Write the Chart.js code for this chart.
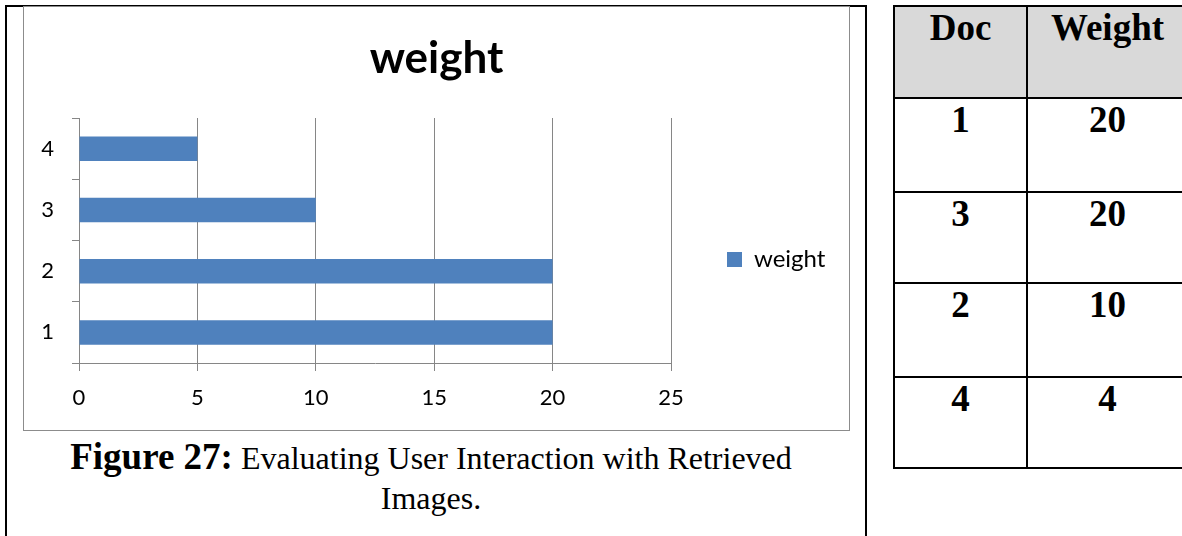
<!DOCTYPE html>
<html>
<head>
<meta charset="utf-8">
<script src="https://cdn.jsdelivr.net/npm/chart.js@4"></script>
<style>
  html, body { margin: 0; padding: 0; background: #fff; overflow: hidden; }
  body { width: 1182px; height: 536px; position: relative; }
  #cell { position: absolute; left: 5px; top: 5px; width: 858px; height: 600px;
          border-left: 2px solid #000; border-top: 2px solid #000; border-right: 2px solid #000; }
  #frame { position: absolute; left: 23px; top: 6px; width: 825px; height: 423px; border: 1px solid #8c8c8c; }
  #frame canvas { position: absolute; left: 0; top: 0; }
  #caption { position: absolute; left: 7px; top: 437px; width: 848px; text-align: center;
             font-family: "Liberation Serif", serif; font-size: 32px; line-height: 40px; color: #000; }
  #caption b { font-size: 37px; }
  #docTable { position: absolute; left: 893px; top: 5px; width: 294px; border-collapse: collapse; table-layout: fixed;
              font-family: "Liberation Serif", serif; font-weight: bold; font-size: 37px; line-height: 1.15; }
  #docTable td { border: 2px solid #000; padding: 0; text-align: center; vertical-align: top; }
  #docTable tr.head td { background: #d9d9d9; }
</style>
</head>
<body>
<div id="cell"></div>
<div id="frame"><canvas id="weightChart" width="825" height="423"></canvas></div>
<div id="caption"><b>Figure 27:</b> Evaluating User Interaction with Retrieved<br>Images.</div>
<table id="docTable">
  <colgroup><col style="width:133px"><col style="width:161px"></colgroup>
  <tbody id="docBody"></tbody>
</table>
<script>
// chart data
const categories = ['1', '2', '3', '4'];
const weightValues = [20, 20, 10, 5];
const xTicks = [0, 5, 10, 15, 20, 25];

// table data
const tableHeaders = ['Doc', 'Weight'];
const tableDocs = ['1', '3', '2', '4'];
const tableWeights = [20, 20, 10, 4];
const rowHeights = [92, 94, 91, 94, 91];

// build the table
const body = document.getElementById('docBody');
const rows = [tableHeaders].concat(tableDocs.map((d, i) => [d, String(tableWeights[i])]));
rows.forEach((r, i) => {
    const tr = document.createElement('tr');
    if (i === 0) tr.className = 'head';
    tr.style.height = rowHeights[i] + 'px';
    r.forEach(txt => {
        const td = document.createElement('td');
        td.textContent = txt;
        tr.appendChild(td);
    });
    body.appendChild(tr);
});

Chart.defaults.font.family = 'Lato';
const gridColor = '#868686';
const canvasHeight = 423;

// where the plot area sits inside the canvas
const target = { left: 55, right: 647, top: 111, bottom: 356 };
let sidePad = 30;

const ctx = document.getElementById('weightChart').getContext('2d');
const chart = new Chart(ctx, {
    type: 'bar',
    data: {
        labels: categories,
        datasets: [{
            label: 'weight',
            data: weightValues,
            backgroundColor: '#4f81bd',
            barPercentage: 0.4,
            categoryPercentage: 1
        }]
    },
    options: {
        indexAxis: 'y',
        responsive: false,
        animation: false,
        devicePixelRatio: 1,
        layout: { padding: { left: sidePad, right: sidePad, top: 0, bottom: 0 } },
        plugins: {
            title: {
                display: true,
                text: 'weight',
                color: '#000',
                font: { size: 44, weight: 'bold' },
                padding: { top: 25, bottom: 34 }
            },
            legend: {
                position: 'right',
                fullSize: false,
                // empty legend title only pushes the entry down a little
                title: { display: true, text: '', font: { size: 10 }, padding: 13 },
                labels: {
                    boxWidth: 15,
                    boxHeight: 15,
                    padding: 56,
                    color: '#000',
                    font: { size: 24 }
                }
            },
            tooltip: { enabled: false }
        },
        scales: {
            x: {
                min: 0,
                max: 25,
                afterBuildTicks: scale => { scale.ticks = xTicks.map(v => ({ value: v })); },
                afterFit: scale => { scale.height = canvasHeight - target.bottom; },
                ticks: { color: '#000', font: { size: 22 }, padding: 14 },
                grid: { color: gridColor, tickLength: 8 },
                border: { color: gridColor }
            },
            y: {
                reverse: true,
                afterFit: scale => { scale.width = target.left - sidePad; },
                ticks: { color: '#000', font: { size: 22 }, padding: 18 },
                grid: { drawOnChartArea: false, tickLength: 7, color: gridColor, offset: true },
                border: { color: gridColor }
            }
        }
    }
});

// nudge the plot area onto the reference position
for (let i = 0; i < 3; i++) {
    const a = chart.chartArea;
    sidePad += a.right - target.right;
    chart.options.layout.padding.left = sidePad;
    chart.options.layout.padding.right = sidePad;
    chart.options.plugins.title.padding.bottom += target.top - a.top;
    chart.update();
}
</script>
</body>
</html>
